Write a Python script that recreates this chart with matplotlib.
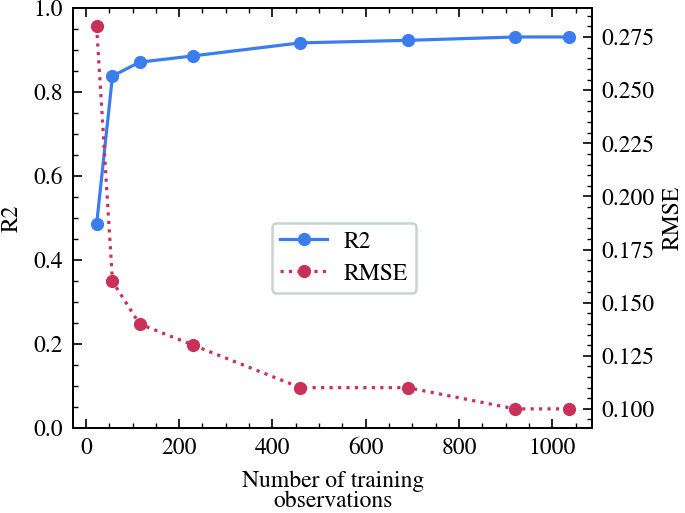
import matplotlib
matplotlib.use("Agg")
import matplotlib.pyplot as plt
from matplotlib.ticker import MultipleLocator, AutoMinorLocator, FormatStrFormatter

n_train = [23, 57, 115, 230, 460, 690, 920, 1035]
r2 = [0.485, 0.838, 0.871, 0.886, 0.917, 0.923, 0.931, 0.931]
rmse = [0.280, 0.160, 0.140, 0.130, 0.110, 0.110, 0.100, 0.100]

plt.rcParams['font.family'] = ['STIXGeneral', 'Liberation Serif', 'DejaVu Serif']
plt.rcParams['mathtext.fontset'] = 'stix'
plt.rcParams['font.size'] = 17
plt.rcParams['axes.linewidth'] = 1.3

blue = '#3b7ded'
red = '#c9305a'

fig = plt.figure(figsize=(6.85, 5.13), dpi=100)
ax = fig.add_axes([0.1066, 0.1657, 0.7578, 0.8187])
ax2 = ax.twinx()

l1, = ax.plot(n_train, r2, color=blue, lw=2.3, marker='o', ms=8.5, label='R2')
l2, = ax2.plot(n_train, rmse, color=red, lw=2.3, ls=':', marker='o', ms=8.5, label='RMSE')

ax.set_ylim(0, 1)
ax.set_xlim(-27.6, 1085.6)
ax.yaxis.set_major_locator(MultipleLocator(0.2))
ax.yaxis.set_minor_locator(AutoMinorLocator(4))
ax.xaxis.set_major_locator(MultipleLocator(200))
ax.xaxis.set_minor_locator(AutoMinorLocator(4))
ax.tick_params(which='both', direction='in', top=True, right=False, pad=7)
ax.tick_params(which='major', length=6.5, width=1.2)
ax.tick_params(which='minor', length=3.5, width=1.0)

ax2.set_ylim(0.091, 0.2887)
ax2.yaxis.set_major_locator(MultipleLocator(0.025))
ax2.yaxis.set_minor_locator(AutoMinorLocator(5))
ax2.tick_params(which='both', direction='in', pad=7)
ax2.tick_params(which='major', length=6.5, width=1.2)
ax2.tick_params(which='minor', length=3.5, width=1.0)
ax2.yaxis.set_major_formatter(FormatStrFormatter('%.3f'))

ax.set_xlabel('Number of training\nobservations', linespacing=0.95, labelpad=8)
ax.set_ylabel('R2', labelpad=8)
ax2.set_ylabel('RMSE', labelpad=5)

leg = ax.legend([l1, l2], ['R2', 'RMSE'], loc='center', bbox_to_anchor=(0.522, 0.405),
                fancybox=True, framealpha=1, edgecolor='#c9d3cf', handlelength=2.0,
                borderpad=0.35, labelspacing=0.45, handletextpad=0.7)
leg.get_frame().set_linewidth(1.8)

fig.savefig('out.png', dpi=100)
